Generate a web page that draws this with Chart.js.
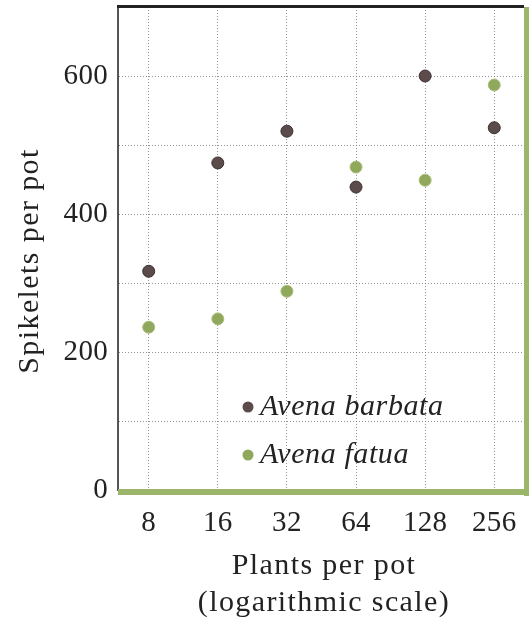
<!DOCTYPE html>
<html>
<head>
<meta charset="utf-8">
<script src="https://cdn.jsdelivr.net/npm/chart.js@4"></script>
<style>
  html, body { margin: 0; padding: 0; background: #fff; }
  #wrap { width: 531px; height: 624px; }
</style>
</head>
<body>
<div id="wrap"><canvas id="c"></canvas></div>
<script>
// Plants per pot (log scale) and spikelets per pot
const plantsPerPot = [8, 16, 32, 64, 128, 256];
const barbata = [317, 474, 520, 439, 600, 525];
const fatua = [236, 248, 288, 468, 449, 587];
const seriesNames = ['Avena barbata', 'Avena fatua'];
const yTickLabels = [0, 200, 400, 600];
const xTitle = ['Plants per pot', '(logarithmic scale)'];
const yTitle = 'Spikelets per pot';

const serif = "'Liberation Serif', 'DejaVu Serif', serif";
const gridDots = 'rgba(110, 110, 110, 0.75)';

const spacingPlugin = {
    id: 'spacing',
    beforeDraw(chart) { chart.ctx.letterSpacing = '0.3px'; }
};

// frame, axis titles and the legend inside the plot
const framePlugin = {
    id: 'frame',
    afterDraw(chart) {
        const { ctx, chartArea: a } = chart;
        ctx.save();
        ctx.fillStyle = '#222';
        ctx.fillRect(a.left - 1, a.top - 2, a.right - a.left + 1, 3);
        ctx.fillStyle = '#9bb56b';
        ctx.fillRect(a.right, a.top, 5, a.bottom - a.top + 6);
        ctx.fillRect(a.left, a.bottom - 1, a.right - a.left + 5, 6);

        // axis titles
        ctx.fillStyle = '#222';
        ctx.textAlign = 'center';
        ctx.textBaseline = 'middle';
        ctx.letterSpacing = '1.4px';
        ctx.font = '30px ' + serif;
        const cx = (a.left + a.right) / 2 + 3;
        xTitle.forEach((t, i) => ctx.fillText(t, cx, 566 + i * 37));
        ctx.save();
        ctx.translate(30, 261);
        ctx.rotate(-Math.PI / 2);
        ctx.fillText(yTitle, 0, 0);
        ctx.restore();

        // legend
        ctx.textAlign = 'left';
        chart.data.datasets.forEach((ds, i) => {
            const x = a.left + 130;
            const y = a.top + 400 + i * 48;
            ctx.beginPath();
            ctx.arc(x, y, 5.5, 0, Math.PI * 2);
            ctx.fillStyle = ds.backgroundColor;
            ctx.fill();
            ctx.fillStyle = '#222';
            ctx.letterSpacing = '0.6px';
            ctx.font = 'italic 30px ' + serif;
            ctx.fillText(ds.label, x + 12, y);
        });
        ctx.restore();
    }
};

new Chart(document.getElementById('c'), {
    type: 'scatter',
    data: {
        datasets: [
            {
                label: seriesNames[0],
                data: plantsPerPot.map((x, i) => ({ x, y: barbata[i] })),
                backgroundColor: '#5b4b4a',
                borderColor: '#3d3232',
                borderWidth: 1,
                pointRadius: 6
            },
            {
                label: seriesNames[1],
                data: plantsPerPot.map((x, i) => ({ x, y: fatua[i] })),
                backgroundColor: '#8fa85c',
                borderColor: '#a9be7c',
                borderWidth: 1,
                pointRadius: 6
            }
        ]
    },
    options: {
        responsive: true,
        maintainAspectRatio: false,
        animation: false,
        layout: { padding: { top: 7, right: 4, left: 0, bottom: 0 } },
        scales: {
            x: {
                type: 'logarithmic',
                min: 5.88,
                max: 345,
                afterBuildTicks: (s) => { s.ticks = plantsPerPot.map(v => ({ value: v })); },
                afterFit: (s) => { s.height = 134; s.paddingLeft = 0; s.paddingRight = 0; },
                ticks: {
                    callback: (v) => String(v),
                    color: '#222',
                    font: { family: serif, size: 29 },
                    maxRotation: 0,
                    padding: 16
                },
                grid: { color: gridDots, lineWidth: 1, drawTicks: false },
                border: { display: false, dash: [1, 2] },
                title: { display: false }
            },
            y: {
                min: 0,
                max: 700,
                afterFit: (s) => { s.width = 118; s.paddingTop = 0; s.paddingBottom = 0; },
                ticks: {
                    stepSize: 100,
                    callback: (v) => yTickLabels.includes(v) ? String(v) : '',
                    color: '#222',
                    font: { family: serif, size: 29 },
                    padding: 10
                },
                grid: { color: gridDots, lineWidth: 1, drawTicks: false },
                border: { display: true, color: '#555', width: 2, dash: [1, 2] },
                title: { display: false }
            }
        },
        plugins: {
            legend: { display: false },
            tooltip: { enabled: false }
        }
    },
    plugins: [spacingPlugin, framePlugin]
});
</script>
</body>
</html>
